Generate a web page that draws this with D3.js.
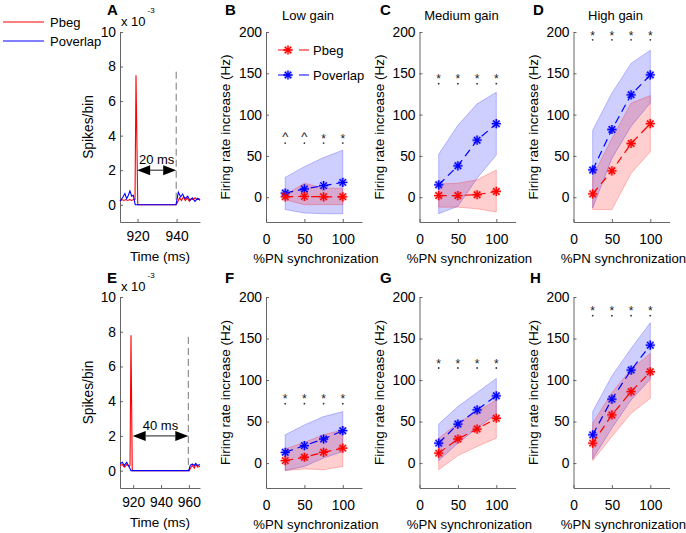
<!DOCTYPE html>
<meta charset="utf-8">
<style>
body { margin: 0; background: #fff; }
svg { font-family: "Liberation Sans", Arial, Helvetica, sans-serif; }
.axis path, .axis line { stroke: #555; stroke-width: 0.9; }
.axis text { fill: #000; font-size: 13.8px; font-family: "Liberation Sans", Arial, sans-serif; }
</style>
<svg width="686" height="533"></svg>
<script src="https://d3js.org/d3.v7.min.js"></script>
<script>

/* ---------- data ---------- */

var syncLevels = [25, 50, 75, 100];
var rateTicks = [0, 50, 100, 150, 200];
var syncTicks = [0, 50, 100];
var spikeTicks = [0, 2, 4, 6, 8, 10];

// B: low gain, 20 ms
var begMeanB = [0.5, 1, 0.5, 0.5], begLoB = [-3, -9, -9, -9], begHiB = [3, 17, 11, 11];
var ovlMeanB = [5, 10, 14, 18], ovlLoB = [-15, -19, -20, -20], ovlHiB = [24, 37, 48, 57];
var sigB = ["^", "^", "*", "*"];

// C: medium gain, 20 ms
var begMeanC = [2, 2, 3, 7], begLoC = [-12, -12, -14, -18], begHiC = [16, 17, 21, 33];
var ovlMeanC = [15, 38, 69, 89], ovlLoC = [-20, -11, 23, 51], ovlHiC = [52, 87, 113, 127];
var sigC = ["*", "*", "*", "*"];

// D: high gain, 20 ms
var begMeanD = [4, 32, 65, 89], begLoD = [-15, -15, 29, 55], begHiD = [25, 71, 114, 123];
var ovlMeanD = [33, 82, 124, 148], ovlLoD = [-13, 47, 86, 114], ovlHiD = [81, 126, 162, 178];
var sigD = ["*", "*", "*", "*"];

// F: low gain, 40 ms
var begMeanF = [3, 7, 13, 18], begLoF = [-9, -7, -8, -4], begHiF = [17, 25, 34, 40];
var ovlMeanF = [13, 21, 29, 39], ovlLoF = [-9, -4, 6, 14], ovlHiF = [34, 46, 56, 62];
var sigF = ["*", "*", "*", "*"];

// G: medium gain, 40 ms
var begMeanG = [12, 29, 41, 54], begLoG = [-8, 9, 20, 30], begHiG = [30, 48, 62, 76];
var ovlMeanG = [24, 47, 64, 81], ovlLoG = [3, 24, 42, 59], ovlHiG = [47, 68, 85, 102];
var sigG = ["*", "*", "*", "*"];

// H: high gain, 40 ms
var begMeanH = [24, 58, 86, 110], begLoH = [3, 32, 60, 78], begHiH = [48, 85, 113, 132];
var ovlMeanH = [34, 77, 112, 142], ovlLoH = [5, 42, 76, 101], ovlHiH = [62, 105, 138, 169];
var sigH = ["*", "*", "*", "*"];

// height of significance marks (Hz)
var sigLevels = [75, 147, 200, 81, 124, 187];

// A: spike traces, 20 ms gap (x 10^-3 spikes/bin)
var tBegA = [911, 912, 913, 914, 915, 916, 917, 918, 918.7, 919.2, 920.1, 939.7, 940.5, 941.5, 942.5, 943.5, 944.5, 945.5, 946.5, 947.5, 948.5, 949.5, 950.5, 951.5, 952];
var begA  = [0.2, 0.3, 0.25, 0.3, 0.25, 0.3, 0.25, 0.3, 0.3, 7.5, 0, 0, 0.15, 0.4, 0.25, 0.45, 0.25, 0.4, 0.2, 0.35, 0.3, 0.4, 0.3, 0.35, 0.3];
var tOvlA = [911, 912.5, 913.5, 914.4, 915.3, 916.1, 917, 917.8, 918.8, 939.7, 940.9, 942.1, 943.1, 944.3, 945.7, 946.9, 948.1, 949.4, 950.8, 952];
var ovlA  = [0.2, 0.45, 0.65, 0.35, 0.55, 0.8, 0.5, 0.55, 0, 0, 0.72, 0.45, 0.62, 0.35, 0.5, 0.25, 0.4, 0.2, 0.37, 0.25];

// E: spike traces, 40 ms gap
var tBegE = [910.5, 912.2, 913.6, 915.3, 917, 917.7, 918.4, 919.3, 960.3, 961.2, 962.5, 963.9, 964.9, 966.4, 968];
var begE  = [0.3, 0.35, 0.2, 0.35, 0.25, 0.3, 7.8, 0, 0, 0.15, 0.3, 0.15, 0.35, 0.2, 0.25];
var tOvlE = [910.5, 912.2, 913.6, 915.3, 917, 918.4, 960, 961, 962.5, 963.9, 964.9, 966.4, 968];
var ovlE  = [0.39, 0.48, 0.29, 0.48, 0.23, 0, 0, 0.3, 0.39, 0.29, 0.42, 0.29, 0.35];

/* ---------- layout ---------- */

var svg = d3.select("svg");
var rows = [{top: 32, bottom: 222}, {top: 297, bottom: 488}];
var rateLefts = [266, 419.5, 573.5];
var RED = "#ff0000", BLUE = "#0000ff";

function starPath(r) {
  var p = d3.path();
  for (var i = 0; i < 4; i++) {
    var a = i * Math.PI / 4;
    p.moveTo(-r * Math.cos(a), -r * Math.sin(a));
    p.lineTo(r * Math.cos(a), r * Math.sin(a));
  }
  return p.toString();
}
var STAR = starPath(4.6);

// star marker with a faint halo, like the anti-aliased original
function drawStar(g, cx, cy, color) {
  g.append("path").attr("d", STAR).attr("transform", "translate(" + cx + "," + cy + ")")
    .attr("fill", "none").attr("stroke", color).attr("stroke-opacity", 0.25).attr("stroke-width", 3);
  g.append("path").attr("d", STAR).attr("transform", "translate(" + cx + "," + cy + ")")
    .attr("fill", "none").attr("stroke", color).attr("stroke-width", 1.3);
}

function panelLetter(x, y, s) {
  svg.append("text").attr("x", x).attr("y", y)
    .style("font-size", "15px").style("font-weight", "bold").text(s);
}

function rateAxes(g, x, y, row) {
  g.append("g").attr("class", "axis")
    .attr("transform", "translate(" + x.range()[0] + ",0)")
    .call(d3.axisLeft(y).tickValues(rateTicks).tickSizeInner(-3).tickSizeOuter(0).tickPadding(4));
  g.append("g").attr("class", "axis")
    .attr("transform", "translate(0," + row.bottom + ")")
    .call(d3.axisBottom(x).tickValues(syncTicks).tickSizeInner(-3).tickSizeOuter(0).tickPadding(12));
  g.append("text")
    .attr("x", (x.range()[0] + x.range()[1]) / 2 + 2)
    .attr("y", row.bottom + 41)
    .attr("text-anchor", "middle")
    .style("font-size", "13.2px")
    .text("%PN synchronization");
  g.append("text")
    .attr("transform", "translate(" + (x.range()[0] - 36) + "," + ((row.top + row.bottom) / 2) + ") rotate(-90)")
    .attr("text-anchor", "middle")
    .style("font-size", "13.5px")
    .text("Firing rate increase (Hz)");
}

function ratePanel(left, row, begMean, begLo, begHi, ovlMean, ovlLo, ovlHi, sig, sigLevel) {
  var g = svg.append("g");
  var x = d3.scaleLinear().domain([0, 125]).range([left, left + 96]);
  var y = d3.scaleLinear().domain([-30, 200]).range([row.bottom, row.top]);

  var area = function(lo, hi) {
    return d3.area()
      .x(function(d, i) { return x(syncLevels[i]); })
      .y0(function(d, i) { return y(lo[i]); })
      .y1(function(d, i) { return y(hi[i]); })(syncLevels);
  };
  var series = [
    {color: BLUE, mean: ovlMean, lo: ovlLo, hi: ovlHi},
    {color: RED, mean: begMean, lo: begLo, hi: begHi}
  ];
  series.forEach(function(s) {
    g.append("path").attr("d", area(s.lo, s.hi))
      .attr("fill", s.color).attr("fill-opacity", 0.19)
      .attr("stroke", s.color).attr("stroke-opacity", 0.3).attr("stroke-width", 0.8);
  });

  rateAxes(g, x, y, row);

  series.forEach(function(s) {
    var line = d3.line()
      .x(function(d, i) { return x(syncLevels[i]); })
      .y(function(d) { return y(d); });
    g.append("path").attr("d", line(s.mean))
      .attr("fill", "none").attr("stroke", s.color).attr("stroke-width", 1.2)
      .attr("stroke-dasharray", "8,5");
    s.mean.forEach(function(d, i) { drawStar(g, x(syncLevels[i]), y(d), s.color); });
  });

  // significance marks
  g.selectAll(null).data(sig).enter().append("text")
    .attr("x", function(d, i) { return x(syncLevels[i]); })
    .attr("y", function(d) { return y(sigLevel) + (d === "^" ? 6 : 7.5); })
    .attr("text-anchor", "middle")
    .style("font-size", function(d) { return d === "^" ? "13px" : "12px"; })
    .attr("fill", "#222")
    .text(function(d) { return d; });
  g.selectAll(null).data(sig).enter().append("circle")
    .attr("cx", function(d, i) { return x(syncLevels[i]); })
    .attr("cy", y(sigLevel - 9.5))
    .attr("r", 0.9).attr("fill", "#333");
}

function spikePanel(row, domain, tBeg, beg, tOvl, ovl, gapStart, gapEnd, label) {
  var g = svg.append("g");
  var x = d3.scaleLinear().domain(domain).range([120, 200]);
  var y = d3.scaleLinear().domain([-1, 10]).range([row.bottom, row.top]);

  g.append("g").attr("class", "axis")
    .attr("transform", "translate(120,0)")
    .call(d3.axisLeft(y).tickValues(spikeTicks).tickSizeInner(-3).tickSizeOuter(0).tickPadding(4));
  g.append("g").attr("class", "axis")
    .attr("transform", "translate(0," + row.bottom + ")")
    .call(d3.axisBottom(x).tickValues(d3.range(920, domain[1], 20)).tickSizeInner(-3).tickSizeOuter(0).tickPadding(9));

  g.append("text").attr("x", 160).attr("y", row.bottom + 39)
    .attr("text-anchor", "middle").style("font-size", "13.5px").text("Time (ms)");
  g.append("text")
    .attr("transform", "translate(93," + ((row.top + row.bottom) / 2) + ") rotate(-90)")
    .attr("text-anchor", "middle").style("font-size", "13.8px").text("Spikes/bin");
  var ex = g.append("text").attr("x", 121).attr("y", row.top - 6).style("font-size", "13px");
  ex.append("tspan").text("x 10");
  ex.append("tspan").attr("dx", 2).attr("dy", -13).style("font-size", "8px").text("-3");

  // gap end marker
  g.append("line")
    .attr("x1", x(gapEnd)).attr("x2", x(gapEnd))
    .attr("y1", y(7.7)).attr("y2", y(0))
    .attr("stroke", "#777").attr("stroke-width", 1).attr("stroke-dasharray", "7,4");

  var line = d3.line().x(function(d) { return x(d[0]); }).y(function(d) { return y(d[1]); });
  g.append("path").attr("d", line(d3.zip(tBeg, beg)))
    .attr("fill", "none").attr("stroke", RED).attr("stroke-width", 1.1);
  g.append("path").attr("d", line(d3.zip(tOvl, ovl)))
    .attr("fill", "none").attr("stroke", BLUE).attr("stroke-width", 1.1);

  // double arrow with label
  var ay = y(2), x1 = x(gapStart), x2 = x(gapEnd), hl = 13, hw = 5;
  g.append("line").attr("x1", x1 + hl).attr("x2", x2 - hl).attr("y1", ay).attr("y2", ay)
    .attr("stroke", "#000").attr("stroke-width", 0.9);
  g.append("path")
    .attr("d", "M" + x1 + "," + ay + "L" + (x1 + hl) + "," + (ay - hw) + "L" + (x1 + hl) + "," + (ay + hw) + "Z" +
               "M" + x2 + "," + ay + "L" + (x2 - hl) + "," + (ay - hw) + "L" + (x2 - hl) + "," + (ay + hw) + "Z")
    .attr("fill", "#000");
  g.append("text").attr("x", (x1 + x2) / 2).attr("y", ay - 6)
    .attr("text-anchor", "middle").style("font-size", "13px").text(label);
}

/* ---------- panels ---------- */

spikePanel(rows[0], [911, 952], tBegA, begA, tOvlA, ovlA, 919.8, 939.8, "20 ms");
spikePanel(rows[1], [910.5, 968], tBegE, begE, tOvlE, ovlE, 919.6, 959.6, "40 ms");

ratePanel(rateLefts[0], rows[0], begMeanB, begLoB, begHiB, ovlMeanB, ovlLoB, ovlHiB, sigB, sigLevels[0]);
ratePanel(rateLefts[1], rows[0], begMeanC, begLoC, begHiC, ovlMeanC, ovlLoC, ovlHiC, sigC, sigLevels[1]);
ratePanel(rateLefts[2], rows[0], begMeanD, begLoD, begHiD, ovlMeanD, ovlLoD, ovlHiD, sigD, sigLevels[2]);
ratePanel(rateLefts[0], rows[1], begMeanF, begLoF, begHiF, ovlMeanF, ovlLoF, ovlHiF, sigF, sigLevels[3]);
ratePanel(rateLefts[1], rows[1], begMeanG, begLoG, begHiG, ovlMeanG, ovlLoG, ovlHiG, sigG, sigLevels[4]);
ratePanel(rateLefts[2], rows[1], begMeanH, begLoH, begHiH, ovlMeanH, ovlLoH, ovlHiH, sigH, sigLevels[5]);

// titles
var titles = ["Low gain", "Medium gain", "High gain"];
svg.selectAll(null).data(titles).enter().append("text")
  .attr("x", function(d, i) { return rateLefts[i] + 42; })
  .attr("y", 20)
  .attr("text-anchor", "middle")
  .style("font-size", "13px")
  .text(function(d) { return d; });

// panel letters
panelLetter(107, 15, "A"); panelLetter(225, 15, "B"); panelLetter(380, 15, "C"); panelLetter(533, 15, "D");
panelLetter(107, 283, "E"); panelLetter(225, 283, "F"); panelLetter(380, 283, "G"); panelLetter(530, 283, "H");

// legend in panel B
var legendNames = ["Pbeg", "Poverlap"];
var legendColors = [RED, BLUE];
var lg = svg.append("g");
legendNames.forEach(function(name, i) {
  var ly = 50 + i * 25;
  lg.append("line").attr("x1", 278).attr("x2", 309).attr("y1", ly).attr("y2", ly)
    .attr("stroke", legendColors[i]).attr("stroke-width", 1.2).attr("stroke-dasharray", "10,11");
  drawStar(lg, 288, ly, legendColors[i]);
  lg.append("text").attr("x", 313).attr("y", ly + 4.8).style("font-size", "13px").text(name);
});

// legend for spike traces
var lt = svg.append("g");
legendNames.forEach(function(name, i) {
  var ly = 22 + i * 19;
  lt.append("line").attr("x1", 3).attr("x2", 44).attr("y1", ly).attr("y2", ly)
    .attr("stroke", legendColors[i]).attr("stroke-width", 1.1);
  lt.append("text").attr("x", 50).attr("y", ly + 4.8).style("font-size", "13px").text(name);
});

</script>
